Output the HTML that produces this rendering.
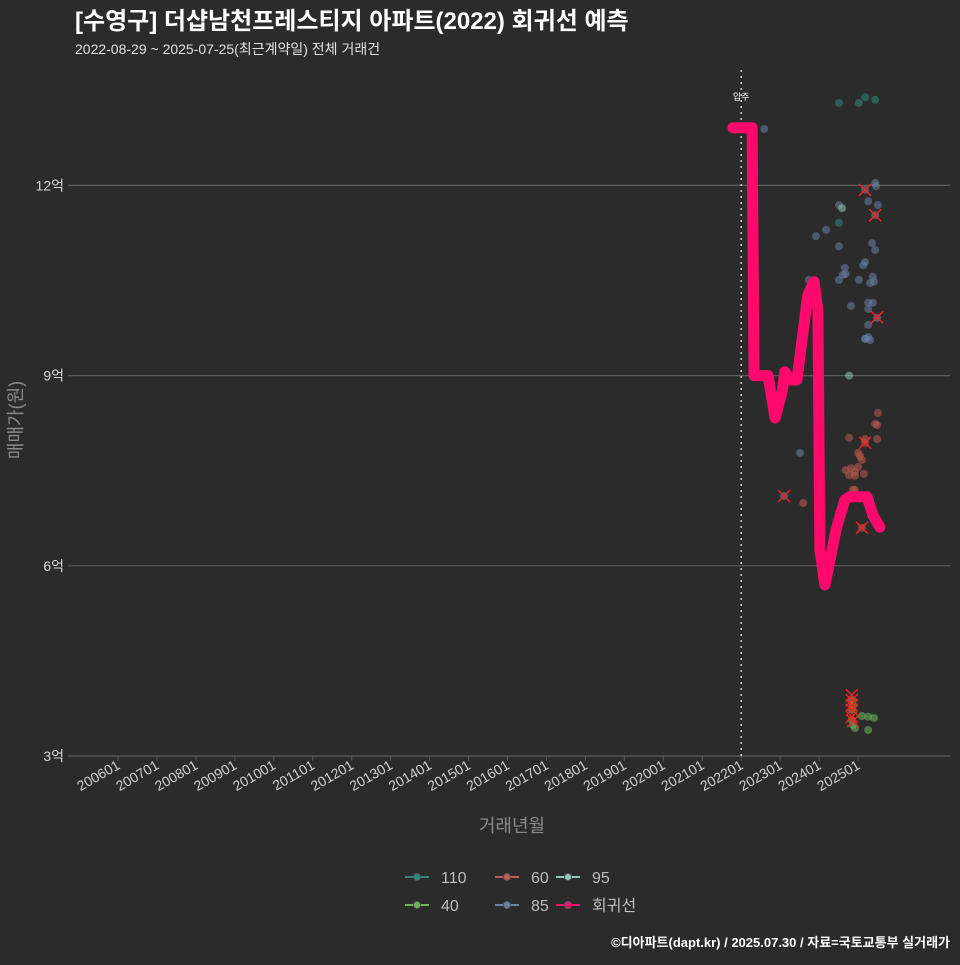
<!DOCTYPE html>
<html><head><meta charset="utf-8">
<style>
html,body{margin:0;padding:0;background:#2b2b2b;}
body{width:960px;height:960px;overflow:hidden;font-family:"Liberation Sans","Noto Sans CJK KR",sans-serif;}
</style></head>
<body>
<svg id="chart" width="960" height="960" xmlns="http://www.w3.org/2000/svg" style="font-family:'Liberation Sans','Noto Sans CJK KR',sans-serif">
<rect width="960" height="960" fill="#2b2b2b"/>
<text x="75" y="29" fill="#ffffff" font-size="24" font-weight="bold">[수영구] 더샵남천프레스티지 아파트(2022) 회귀선 예측</text>
<text x="75" y="54" fill="#e0e0e0" font-size="14">2022-08-29 ~ 2025-07-25(최근계약일) 전체 거래건</text>
<g id="grid"></g>
<g id="marks"></g>
<text x="512" y="832" fill="#8a8a8a" font-size="18" text-anchor="middle">거래년월</text>
<text transform="translate(22,420) rotate(-90)" fill="#8a8a8a" font-size="18" text-anchor="middle">매매가(원)</text>
<g id="legend"></g>
<text x="950" y="947" fill="#ffffff" font-size="13" font-weight="bold" text-anchor="end">©디아파트(dapt.kr) / 2025.07.30 / 자료=국토교통부 실거래가</text>
</svg>
<script>
const xTickLabels=["200601","200701","200801","200901","201001","201101","201201","201301","201401","201501","201601","201701","201801","201901","202001","202101","202201","202301","202401","202501"];
const yTickValues=[3,6,9,12];
const yTickLabels=["3억","6억","9억","12억"];
const moveInYear=2022.0;
// regression line
const regT=[2021.79,2022.28,2022.33,2022.69,2022.87,2023.05,2023.12,2023.25,2023.43,2023.71,2023.87,2023.97,2024.02,2024.15,2024.28,2024.43,2024.66,2024.79,2025.23,2025.38,2025.56];
const regV=[12.91,12.91,9.0,9.0,8.33,8.74,9.06,8.93,8.93,10.27,10.48,10.03,6.25,5.70,6.09,6.56,7.04,7.09,7.09,6.80,6.61];
// scatter by area
const t110=[2024.51,2025.02,2025.18,2025.44,2024.51];
const v110=[13.30,13.30,13.39,13.35,11.41];
const t95=[2024.59,2024.77];
const v95=[11.64,9.0];
const t85=[2022.59,2025.44,2025.46,2025.26,2025.51,2024.51,2023.92,2024.18,2024.51,2025.36,2025.44,2025.18,2025.13,2024.66,2024.68,2024.61,2024.51,2025.02,2025.38,2025.41,2025.31,2023.74,2024.82,2025.26,2025.38,2025.26,2025.49,2025.26,2025.26,2025.20,2025.31,2025.18,2023.51,2023.10,2025.18,2025.44];
const v85=[12.89,12.04,11.99,11.75,11.69,11.69,11.20,11.30,11.04,11.09,10.98,10.79,10.74,10.70,10.60,10.59,10.51,10.51,10.56,10.48,10.46,10.51,10.10,10.15,10.15,10.05,9.91,9.80,9.61,9.58,9.56,9.58,7.78,7.10,11.93,11.53];
const t60=[2025.51,2025.44,2025.49,2024.77,2025.18,2025.49,2025.00,2025.05,2025.10,2024.68,2024.82,2025.00,2024.92,2025.15,2024.77,2024.87,2024.92,2023.59,2024.92,2025.18,2025.10];
const v60=[8.41,8.24,8.22,8.02,8.00,8.00,7.78,7.73,7.67,7.51,7.54,7.56,7.48,7.45,7.43,7.20,7.42,6.99,7.20,7.94,6.60];
const t40=[2024.84,2024.87,2024.84,2025.10,2025.26,2025.41,2025.26,2024.92,2024.87,2024.84];
const v40=[3.88,3.80,3.73,3.63,3.62,3.60,3.41,3.44,3.49,3.57];
// cancelled deals (marked with X)
const tCancel=[2025.18,2025.44,2025.49,2025.10,2023.10,2025.18,2024.84,2024.84,2024.84,2024.84,2024.84,2024.87];
const vCancel=[11.93,11.53,9.92,6.60,7.10,7.94,3.96,3.88,3.80,3.73,3.62,3.55];

const NS="http://www.w3.org/2000/svg";
const X=t=>118+(t-2006)*38.95;
const Y=v=>756-(v-3)*63.4;
const grid=document.getElementById('grid'), marks=document.getElementById('marks');
function mk(tag,attrs,parent){const e=document.createElementNS(NS,tag);for(const k in attrs)e.setAttribute(k,attrs[k]);parent.appendChild(e);return e;}

yTickValues.forEach((v,i)=>{
  const l=mk('line',{x1:68,x2:950,y1:Y(v),y2:Y(v),stroke:'#5c5c5c','stroke-width':1.2},grid);
  
  
  const t=mk('text',{x:64,y:Y(v)+5,fill:'#d8d8d8','font-size':14,'text-anchor':'end'},grid);
  t.textContent=yTickLabels[i];
  
  
});
xTickLabels.forEach(s=>{
  const yr=+s.slice(0,4)+(+s.slice(4)-1)/12;
  const x=X(yr);
  const tk=mk('line',{x1:x,x2:x,y1:756,y2:761,stroke:'#5c5c5c'},grid);
  
  
  const t=mk('text',{x:x+3,y:768,fill:'#cfcfcf','font-size':14,'text-anchor':'end',transform:`rotate(-30 ${x+3} 768)`},grid);
  t.textContent=s;
  
  
});
const mv=mk('line',{x1:X(moveInYear),x2:X(moveInYear),y1:70,y2:756,stroke:'#cfcfcf','stroke-width':1.5,'stroke-dasharray':'2 4'},marks);


const mvt=mk('text',{x:X(moveInYear),y:100,fill:'#ffffff','font-size':9,'text-anchor':'middle'},marks);
mvt.textContent='입주';



function dots(ts,vs,col,name){
  ts.forEach((t,i)=>{
    const c=mk('circle',{cx:X(t),cy:Y(vs[i]),r:4,fill:col,'fill-opacity':0.55},marks);
    
    
  });
}
dots(t85,v85,'#6a7fa6','point-85');
dots(t60,v60,'#c25a52','point-60');
dots(t110,v110,'#2e8a7e','point-110');
dots(t95,v95,'#8fc8b8','point-95');
dots(t40,v40,'#6bb85a','point-40');
tCancel.forEach((t,i)=>{
  const x=X(t),y=Y(vCancel[i]);
  const p=mk('path',{d:`M${x-6},${y-6}L${x+6},${y+6}M${x+6},${y-6}L${x-6},${y+6}`,stroke:'#ff2020','stroke-width':1.4},marks);
  
  
});
const reg=mk('polyline',{points:regT.map((t,i)=>X(t)+','+Y(regV[i])).join(' '),fill:'none',stroke:'#ff0a6c','stroke-width':11,'stroke-linejoin':'round','stroke-linecap':'round'},marks);



const legendItems=[["110","#2e8a7e",405,877],["60","#c25a52",495,877],["95","#8fc8b8",556,877],["40","#6bb85a",405,905],["85","#6a7fa6",495,905],["회귀선","#ff0a6c",556,905]];
const lg=document.getElementById('legend');
legendItems.forEach(it=>{
  const g=mk('g',{},lg);
  
  
  mk('line',{x1:it[2],x2:it[2]+24,y1:it[3],y2:it[3],stroke:it[1],'stroke-width':2},g);
  mk('circle',{cx:it[2]+12,cy:it[3],r:3.5,fill:it[1],stroke:'#555'},g);
  const t=mk('text',{x:it[2]+36,y:it[3]+6,fill:'#bdbdbd','font-size':16},g);
  t.textContent=it[0];
});
</script>
</body></html>
